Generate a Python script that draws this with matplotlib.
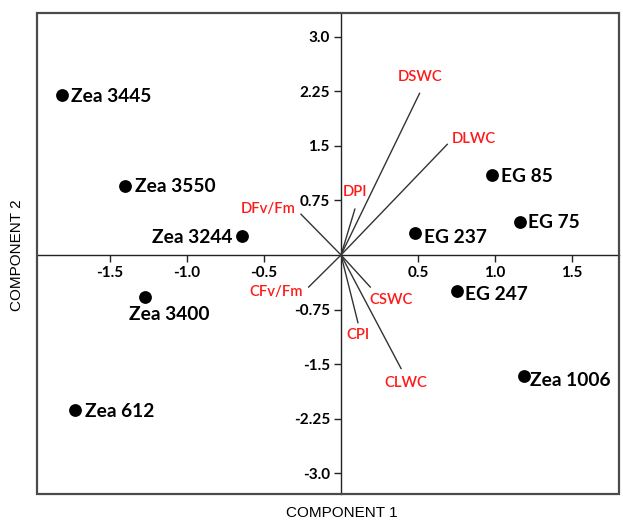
import matplotlib
matplotlib.use("Agg")
import matplotlib.pyplot as plt
from matplotlib.patches import Rectangle

# Genotype scores on the first two components
genotypes = ["Zea 3445", "Zea 3550", "Zea 3244", "Zea 3400", "Zea 612",
             "EG 85", "EG 75", "EG 237", "EG 247", "Zea 1006"]
pc1_scores = [-1.81, -1.40, -0.64, -1.27, -1.73, 0.98, 1.16, 0.48, 0.75, 1.19]
pc2_scores = [2.20, 0.95, 0.26, -0.58, -2.13, 1.10, 0.46, 0.30, -0.49, -1.66]

# Trait loadings (vector end points)
traits = ["DSWC", "DLWC", "DPI", "DFv/Fm", "CFv/Fm", "CSWC", "CPI", "CLWC"]
pc1_load = [0.51, 0.69, 0.09, -0.26, -0.21, 0.19, 0.11, 0.39]
pc2_load = [2.22, 1.52, 0.63, 0.56, -0.44, -0.44, -0.93, -1.56]

x_ticks = [-1.5, -1.0, -0.5, 0.5, 1.0, 1.5]
y_ticks = [-3.0, -2.25, -1.5, -0.75, 0.75, 1.5, 2.25, 3.0]
y_tick_labels = ["-3.0", "-2.25", "-1.5", "-0.75", "0.75", "1.5", "2.25", "3.0"]

# label offsets in pixels (dx, dy, ha) for each genotype
label_offsets = {
    "Zea 3445": (9, -2, "left"), "Zea 3550": (10, -1, "left"),
    "Zea 3244": (-10, -1, "right"), "Zea 3400": (-16, -17, "left"),
    "Zea 612": (10, -1, "left"), "EG 85": (9, -2, "left"),
    "EG 75": (8, -1, "left"), "EG 237": (9, -4, "left"),
    "EG 247": (8, -4, "left"), "Zea 1006": (6, -5, "left"),
}
# trait label positions in pixels relative to the vector tip (dx, dy)
trait_offsets = {
    "DSWC": (1, 16), "DLWC": (27, 5), "DPI": (0, 17), "DFv/Fm": (-33, 5),
    "CFv/Fm": (-33, -5), "CSWC": (21, -13), "CPI": (0, -12), "CLWC": (5, -14),
}

fig = plt.figure(figsize=(6.23, 5.22), dpi=100)
ax = fig.add_axes([37 / 623, 28 / 522, 582 / 623, 481 / 522])
ax.set_xlim(-1.974, 1.805)
ax.set_ylim(-3.283, 3.324)

for s in ["top", "right"]:
    ax.spines[s].set_visible(False)
ax.spines["left"].set_position(("data", 0))
ax.spines["bottom"].set_position(("data", 0))
for s in ["left", "bottom"]:
    ax.spines[s].set_color("#222222")
    ax.spines[s].set_linewidth(1.0)

ax.add_patch(Rectangle((0, 0), 1, 1, transform=ax.transAxes, fill=False,
                       edgecolor="#4a4a4a", linewidth=1.6, clip_on=False, zorder=5))

tick_font = dict(family="Lato", weight="bold", size=11)
ax.set_xticks(x_ticks)
ax.set_xticklabels([f"{v:.1f}" for v in x_ticks], **tick_font)
ax.set_yticks(y_ticks)
ax.set_yticklabels(y_tick_labels, **tick_font)
ax.tick_params(axis="both", direction="out", length=5, width=1, color="#222222", pad=3)

# trait vectors
for name, lx, ly in zip(traits, pc1_load, pc2_load):
    ax.plot([0, lx], [0, ly], color="#333333", linewidth=1.0, zorder=3)
    dx, dy = trait_offsets[name]
    ax.annotate(name, (lx, ly), xytext=(dx, dy), textcoords="offset pixels",
                ha="center", va="center", color="#ff1a1a",
                family="Lato", weight="semibold", size=10.7, zorder=4)

# genotype points
ax.scatter(pc1_scores, pc2_scores, s=85, color="black", zorder=6, linewidths=0)
for name, px, py in zip(genotypes, pc1_scores, pc2_scores):
    dx, dy, ha = label_offsets[name]
    ax.annotate(name, (px, py), xytext=(dx, dy), textcoords="offset pixels",
                ha=ha, va="center", color="black", family="Lato",
                weight="bold", size=13.8, zorder=6)

fig.text(342 / 623, 1 - 513 / 522, "COMPONENT 1", ha="center", va="center",
         family="Liberation Sans", size=11)
fig.text(17 / 623, 1 - 255 / 522, "COMPONENT 2", ha="center", va="center",
         rotation=90, family="Liberation Sans", size=11)

fig.savefig("out.png", dpi=100)
